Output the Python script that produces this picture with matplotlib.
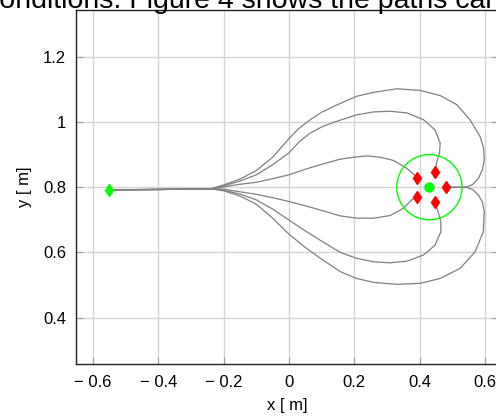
import numpy as np
import matplotlib.pyplot as plt
from matplotlib.patches import Circle

plt.rcParams['font.family'] = ['Liberation Sans', 'DejaVu Sans']

# start point, goal region, targets
start = (-0.55, 0.792)
goal_c = (0.43, 0.80)
goal_r = 0.10
tx = [0.391, 0.447, 0.481, 0.447, 0.391]
ty = [0.829, 0.848, 0.800, 0.754, 0.769]

# common straight part of all paths
x_common = [-0.55, -0.40, -0.30, -0.24]
y_common = [0.792, 0.793, 0.794, 0.795]

# path A (upper inner)
xa = [-0.2, -0.15, -0.1, -0.05, 0.0, 0.05, 0.096, 0.157, 0.198, 0.239, 0.279, 0.320, 0.361, 0.389, 0.391]
ya = [0.801, 0.809, 0.815, 0.826, 0.838, 0.855, 0.869, 0.886, 0.892, 0.896, 0.892, 0.882, 0.858, 0.833, 0.829]
# path B (upper middle)
xb = [-0.2, -0.15, -0.1, -0.05, 0.0, 0.03, 0.065, 0.10, 0.137, 0.207, 0.259, 0.310, 0.361, 0.412, 0.447, 0.463, 0.461, 0.453, 0.447]
yb = [0.804, 0.819, 0.838, 0.869, 0.905, 0.938, 0.966, 0.985, 0.999, 1.022, 1.031, 1.033, 1.028, 1.007, 0.976, 0.935, 0.905, 0.879, 0.848]
# path C (upper outer)
xc = [-0.2, -0.15, -0.1, -0.05, 0.0, 0.03, 0.065, 0.10, 0.137, 0.207, 0.259, 0.330, 0.402, 0.463, 0.514, 0.554, 0.585, 0.596, 0.598, 0.592, 0.580, 0.562, 0.545, 0.530, 0.481]
yc = [0.807, 0.825, 0.851, 0.892, 0.949, 0.980, 1.007, 1.030, 1.048, 1.079, 1.091, 1.102, 1.097, 1.081, 1.053, 1.007, 0.956, 0.920, 0.884, 0.853, 0.827, 0.808, 0.801, 0.800, 0.800]
# path D (lower inner)
xd = [-0.2, -0.15, -0.1, -0.05, 0.0, 0.05, 0.096, 0.157, 0.207, 0.259, 0.310, 0.350, 0.376, 0.391]
yd = [0.794, 0.786, 0.778, 0.768, 0.756, 0.743, 0.730, 0.712, 0.705, 0.705, 0.713, 0.735, 0.761, 0.769]
# path E (lower middle)
xe = [-0.2, -0.15, -0.1, -0.05, 0.0, 0.05, 0.096, 0.157, 0.207, 0.259, 0.310, 0.361, 0.412, 0.447, 0.465, 0.465, 0.458, 0.447]
ye = [0.791, 0.779, 0.761, 0.733, 0.699, 0.666, 0.637, 0.600, 0.582, 0.571, 0.568, 0.573, 0.592, 0.622, 0.663, 0.694, 0.720, 0.754]
# path F (lower outer)
xf = [-0.2, -0.15, -0.1, -0.05, 0.0, 0.05, 0.096, 0.157, 0.207, 0.259, 0.330, 0.402, 0.463, 0.524, 0.570, 0.595, 0.598, 0.592, 0.580, 0.562, 0.545, 0.530, 0.481]
yf = [0.789, 0.773, 0.748, 0.705, 0.656, 0.615, 0.582, 0.541, 0.520, 0.508, 0.502, 0.505, 0.520, 0.551, 0.602, 0.663, 0.725, 0.755, 0.776, 0.793, 0.799, 0.800, 0.800]

xticks = [-0.6, -0.4, -0.2, 0, 0.2, 0.4, 0.6]
xticklabels = ['\u2212 0.6', '\u2212 0.4', '\u2212 0.2', '0', '0.2', '0.4', '0.6']
yticks = [0.4, 0.6, 0.8, 1.0, 1.2]
yticklabels = ['0.4', '0.6', '0.8', '1', '1.2']

fig = plt.figure(figsize=(4.96, 4.19), dpi=100)
ax = fig.add_axes([76/496, 55/419, 422/496, 354/419])

gray = '#808080'
for px, py in [(xa, ya), (xb, yb), (xc, yc), (xd, yd), (xe, ye), (xf, yf)]:
    ax.plot(x_common + px, y_common + py, color=gray, lw=0.9,
            solid_joinstyle='round', zorder=2)

ax.add_patch(Circle(goal_c, goal_r, fill=False, edgecolor='#00ff00', lw=1.0, zorder=3))
ax.plot(goal_c[0], goal_c[1], 'o', color='#00ff00', ms=6.5, zorder=4)
ax.plot(tx, ty, 'd', color='#ff0000', ms=6.5, zorder=4)
ax.plot(start[0], start[1], 'd', color='#00ff00', ms=6, zorder=4)

ax.set_xlim(-0.652, 0.64)
ax.set_ylim(0.2575, 1.3437)
ax.set_xticks(xticks)
ax.set_xticklabels(xticklabels)
ax.set_yticks(yticks)
ax.set_yticklabels(yticklabels)
ax.grid(True, color='#d4d4d4', lw=1.0, zorder=0)
ax.set_axisbelow(True)
ax.tick_params(direction='in', length=5, color='#a0a0a0', labelsize=12,
               top=False, right=True, pad=7)
ax.tick_params(axis='x', pad=8)
for s in ['left', 'bottom', 'top', 'right']:
    ax.spines[s].set_color('#222222')
    ax.spines[s].set_linewidth(1.0)
ax.set_xlabel('x [ m]', fontsize=12, labelpad=6)
ax.set_ylabel('y [ m]', fontsize=12, labelpad=8)

# clipped text from the page above the figure
fig.text(-15/496, 1 - 8.5/419, 'conditions. Figure 4 shows the paths carried out',
         fontsize=20.5, va='baseline', ha='left')

fig.savefig('out.png', dpi=100)
